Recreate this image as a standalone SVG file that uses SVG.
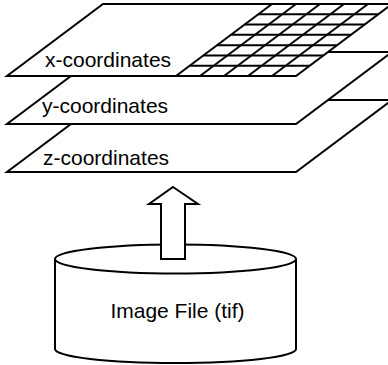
<svg xmlns="http://www.w3.org/2000/svg" width="388" height="365" viewBox="0 0 388 365">
<style>
.s{fill:#fff;stroke:#000;stroke-width:2;stroke-linejoin:miter}
.g{fill:none;stroke:#000;stroke-width:2}
.t{font-family:"Liberation Sans",Arial,sans-serif;font-size:21px;fill:#000}
</style>
<rect width="388" height="365" fill="#fff"/>
<g id="z-plane">
<polygon class="s" points="103,100 392,100 296,172 7,172"/>
<text class="t" x="43" y="165">z-coordinates</text>
</g>
<g id="y-plane">
<polygon class="s" points="103,52 392,52 296,124 7,124"/>
<text class="t" x="42" y="113">y-coordinates</text>
</g>
<g id="x-plane">
<polygon class="s" points="103,4 392,4 296,76 7,76"/>
<text class="t" x="45" y="67">x-coordinates</text>
<g class="g">
<line x1="272" y1="4" x2="176" y2="76"/>
<line x1="296" y1="4" x2="200" y2="76"/>
<line x1="320" y1="4" x2="224" y2="76"/>
<line x1="344" y1="4" x2="248" y2="76"/>
<line x1="368" y1="4" x2="272" y2="76"/>
<line x1="258.29" y1="14.29" x2="378.29" y2="14.29"/>
<line x1="244.57" y1="24.57" x2="364.57" y2="24.57"/>
<line x1="230.86" y1="34.86" x2="350.86" y2="34.86"/>
<line x1="217.14" y1="45.14" x2="337.14" y2="45.14"/>
<line x1="203.43" y1="55.43" x2="323.43" y2="55.43"/>
<line x1="189.71" y1="65.71" x2="309.71" y2="65.71"/>
</g>
</g>
<g id="image-file">
<path class="s" d="M55,259 L55,349 A120.5,14 0 0 0 296,349 L296,259"/>
<ellipse class="s" cx="175.5" cy="259" rx="120.5" ry="14.5"/>
<text class="t" x="177.5" y="318" text-anchor="middle">Image File (tif)</text>
</g>
<g id="connectors">
<polygon class="s" points="173,187 198,204 185,204 185,259 161,259 161,204 149,204"/>
</g>
</svg>
